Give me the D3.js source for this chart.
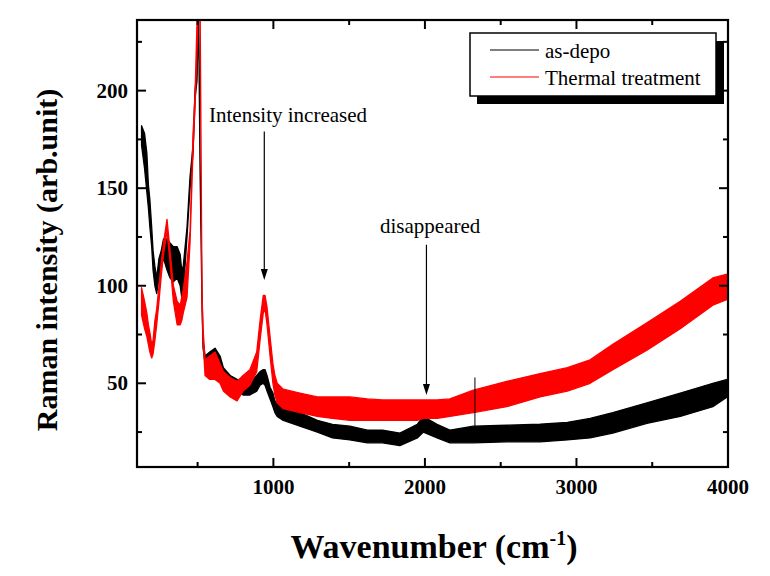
<!DOCTYPE html>
<html><head><meta charset="utf-8">
<script src="https://cdn.jsdelivr.net/npm/d3@7"></script>
<style>body{margin:0;background:#fff}svg{display:block}text{font-family:"Liberation Serif","Times New Roman",serif}</style>
</head><body>
<svg id="c" width="770" height="576"></svg>
<script>
// Wavenumber grid (cm-1) and envelope (low/high) of each noisy trace
const wavenumber = [130,150,165,175,185,197,206,218,230,245,260,275,298,318,340,365,385,395,405,430,450,470,483,496,506,516,529,536,549,580,615,648,670,715,760,800,845,890,912,933,945,958,978,997,1010,1025,1065,1175,1290,1390,1505,1620,1720,1835,1950,1990,2080,2165,2320,2540,2760,2940,3090,3240,3465,3685,3900,3995];
const asDepoLow  = [172,160,148,140,130,120,108,100,96,104,110,114,108,104,102,104,100,94,96,125,150,168,196,205,240,160,90,68,60,57,60,56,52,49,46,44,44,46,49,50,49,46,42,38,35,33,31,28,25,22,21,19.5,19.5,18,22,25,22,19.5,19.5,20,20,21,22,24.5,29.5,33,38,43];
const asDepoHigh = [182,178,168,152,144,130,118,110,104,114,118,124,124,122,120,120,116,108,110,130,156,172,200,212,250,165,96,72,64,66,68,64,58,54,52,50,50,54,56,57,57,54,48,45,41,40,38,35,31,29,28,26,26,24.5,29,33,29,26,28,28.5,29,30,32,35,40,45,50,52];
const thermalLow  = [85,78,74,70,66,63,65,72,80,92,105,116,128,112,92,80,80,82,86,94,122,170,192,220,245,240,90,72,54,52,52,50,46,43,41,46,49,56,72,86,88,80,64,50,44,40,37,35,33,32,31,31,31,31,31,32,32,33,35,38,43,46,50,57,67,78,90,93];
const thermalHigh = [99,92,86,80,76,70,72,82,88,100,112,122,134,118,100,92,90,94,98,112,128,178,198,235,250,250,96,78,62,64,66,60,56,53,51,54,57,66,82,95,95,89,74,60,54,50,47,45,43,43,43,42,41.5,41.5,41.5,41.5,41.5,42,46.5,51,55,58,62,70,81,92,104,106];
const asDepoSpikes = [[2330, 53]];
const seriesNames = ["as-depo", "Thermal treatment"];
const seriesColors = ["#000000", "#ff0000"];
const xMajorTicks = [1000, 2000, 3000, 4000];
const xMinorTicks = [500, 1500, 2500, 3500];
const yMajorTicks = [50, 100, 150, 200];
const yMinorTicks = [25, 75, 125, 175, 225];
const annotations = [
  {text: "Intensity increased", wn: 940, from: 179, to: 103, tx: 209, ty: 121.7},
  {text: "disappeared", wn: 2010, from: 121, to: 44, tx: 380, ty: 233}
];

const svg = d3.select("#c");
const L = 137, R = 728, T = 20, B = 467;
const x = d3.scaleLinear().domain([100, 4000]).range([L, R]);
const y = d3.scaleLinear().domain([7.1, 236.2]).range([B, T]);

svg.append("defs").append("clipPath").attr("id", "clip")
  .append("rect").attr("x", L).attr("y", T).attr("width", R - L).attr("height", B - T);

const plot = svg.append("g").attr("clip-path", "url(#clip)");
const area = d3.area().x(d => x(d.w)).y0(d => y(d.lo)).y1(d => y(d.hi));
function band(lo, hi, color) {
  const data = wavenumber.map((w, i) => ({w, lo: lo[i], hi: hi[i]}));
  plot.append("path").datum(data).attr("d", area)
    .attr("fill", color).attr("stroke", color).attr("stroke-width", 1.3).attr("stroke-linejoin", "round");
}
band(asDepoLow, asDepoHigh, seriesColors[0]);
band(thermalLow, thermalHigh, seriesColors[1]);
asDepoSpikes.forEach(([w, v]) => {
  plot.append("line").attr("x1", x(w)).attr("x2", x(w)).attr("y1", y(26)).attr("y2", y(v))
    .attr("stroke", seriesColors[0]).attr("stroke-width", 1);
});

// axes (mirrored, ticks inward)
const axG = svg.append("g");
function ticksFor(axis, vals, len) {
  vals.forEach(v => {
    if (axis === "x") {
      axG.append("line").attr("x1", x(v)).attr("x2", x(v)).attr("y1", B).attr("y2", B - len).attr("stroke", "#000").attr("stroke-width", 2);
      axG.append("line").attr("x1", x(v)).attr("x2", x(v)).attr("y1", T).attr("y2", T + len).attr("stroke", "#000").attr("stroke-width", 2);
    } else {
      axG.append("line").attr("y1", y(v)).attr("y2", y(v)).attr("x1", L).attr("x2", L + len).attr("stroke", "#000").attr("stroke-width", 2);
      axG.append("line").attr("y1", y(v)).attr("y2", y(v)).attr("x1", R).attr("x2", R - len).attr("stroke", "#000").attr("stroke-width", 2);
    }
  });
}
ticksFor("x", xMajorTicks, 9); ticksFor("x", xMinorTicks, 5);
ticksFor("y", yMajorTicks, 9); ticksFor("y", yMinorTicks, 5);
axG.append("rect").attr("x", L).attr("y", T).attr("width", R - L).attr("height", B - T)
  .attr("fill", "none").attr("stroke", "#000").attr("stroke-width", 2.2);

xMajorTicks.forEach(v => svg.append("text").attr("x", x(v)).attr("y", 494).attr("text-anchor", "middle")
  .attr("font-size", 21).attr("font-weight", "bold").text(v));
yMajorTicks.forEach(v => svg.append("text").attr("x", 128).attr("y", y(v) + 7).attr("text-anchor", "end")
  .attr("font-size", 21).attr("font-weight", "bold").text(v));

// axis titles
const xt = svg.append("text").attr("x", 434).attr("y", 558).attr("text-anchor", "middle")
  .attr("font-size", 34).attr("font-weight", "bold");
xt.append("tspan").text("Wavenumber (cm");
xt.append("tspan").attr("font-size", 20).attr("dy", -13).text("-1");
xt.append("tspan").attr("dy", 13).text(")");
svg.append("text").attr("transform", "translate(57,260) rotate(-90)").attr("text-anchor", "middle")
  .attr("font-size", 30).attr("font-weight", "bold").text("Raman intensity (arb.unit)");

// annotations
annotations.forEach(a => {
  const ax = x(a.wn), y0 = y(a.from), y1 = y(a.to);
  svg.append("text").attr("x", a.tx).attr("y", a.ty).attr("font-size", 21).text(a.text);
  svg.append("line").attr("x1", ax).attr("x2", ax).attr("y1", y0).attr("y2", y1 - 9).attr("stroke", "#000").attr("stroke-width", 1.2);
  svg.append("path").attr("d", `M${ax - 3.5},${y1 - 11} L${ax + 3.5},${y1 - 11} L${ax},${y1} Z`).attr("fill", "#000");
});

// legend with shadow
const lg = svg.append("g");
lg.append("rect").attr("x", 477).attr("y", 41).attr("width", 247).attr("height", 63).attr("fill", "#000");
lg.append("rect").attr("x", 470).attr("y", 33).attr("width", 246).attr("height", 63).attr("fill", "#fff").attr("stroke", "#000").attr("stroke-width", 1.5);
seriesNames.forEach((n, i) => {
  const ly = 50 + i * 27;
  lg.append("line").attr("x1", 490).attr("x2", 539).attr("y1", ly).attr("y2", ly).attr("stroke", seriesColors[i]).attr("stroke-width", 1.2);
  lg.append("text").attr("x", 545).attr("y", ly + 7.5).attr("font-size", 21).text(n);
});
</script>
</body></html>
